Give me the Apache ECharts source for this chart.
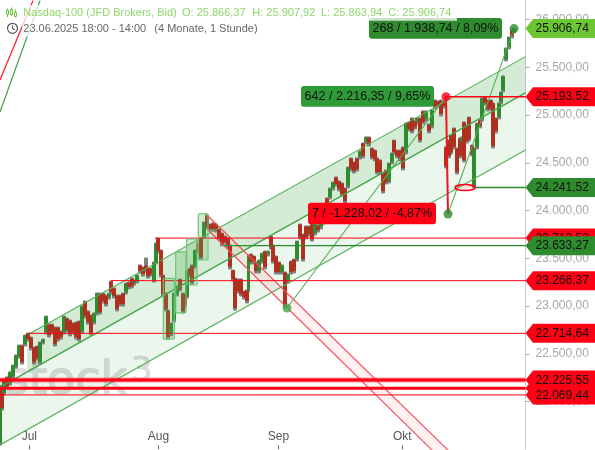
<!DOCTYPE html>
<html>
<head>
<meta charset="utf-8">
<style>html,body{margin:0;padding:0;background:#fff}#c{width:595px;height:450px}</style>
<script src="https://cdn.jsdelivr.net/npm/echarts@6/dist/echarts.min.js"></script>
</head>
<body>
<div id="c"></div>
<script>
const barIndex = [
0,2,4,7,10,13,16,19,22,25,
28,31,34,37,40,43,46,49,52,55,
58,61,64,67,70,73,76,79,82,85,
88,91,94,97,100,103,106,109,111,114,
117,120,123,126,129,132,134,137,140,143,
146,148,151,154,156,158,161,163,166,168,
171,174,177,180,183,185,187,190,192,195,
198,201,204,207,210,213,216,219,222,225,
228,230,233,235,238,241,244,247,248.5,251,
254,256,259,262,265,268,271,273,276,279,
282,285,288,291,294,297,300,303,306,309,
312,315,318,321,324,327,330,333,336,339,
342,345,348,351,354,357,360,363,366,369,
372,375,377,380,383,386,389,392,394,397,
400,403,406,409,412,415,417,420,423,426,
429,432,435,438,441,444,446,449,451,454,
457,460,462,464,467,469,472,474,477,480,
482,485,488,491,493,496,499,501,503,506,
509,512,514];
const highs = [
22069,22173,22226,22257,22310,22383,22488,22592,22592,22697,
22718,22676,22571,22582,22624,22655,22896,22812,22812,22781,
22781,22739,22896,22875,22854,22823,22833,22844,23001,23053,
22949,22907,22928,23137,23137,23137,23116,23137,23263,23190,
23116,23116,23137,23242,23252,23294,23273,23326,23431,23410,
23504,23399,23399,23462,23661,23713,23588,23326,23137,22959,
22823,23137,23211,23284,23137,23116,23378,23399,23431,23588,
23661,23713,23881,23954,23860,23871,23860,23808,23766,23734,
23713,23640,23378,23294,23284,23284,23158,23169,23535,23546,
23525,23462,23483,23556,23577,23577,23734,23640,23525,23462,
23431,23357,23336,23472,23493,23682,23860,23755,23839,23839,
23860,23860,23850,23881,24059,24133,24237,24300,24353,24311,
24290,24237,24457,24552,24510,24552,24625,24709,24772,24772,
24656,24635,24552,24531,24394,24426,24499,24604,24740,24635,
24635,24667,24918,24929,24971,24939,24971,24971,25044,25044,
24908,25054,25159,25149,25159,25149,24667,24740,24793,24866,
24656,24761,24772,24929,24897,24981,24688,24656,24918,24950,
25180,25191,25159,25159,25128,24971,25128,25243,25411,25704,
25819,25893,25907.92];
const lows = [
21545,21911,22069,22142,22173,22247,22351,22456,22393,22582,
22634,22540,22393,22435,22393,22603,22708,22676,22708,22582,
22634,22655,22708,22729,22687,22708,22655,22634,22718,22875,
22812,22697,22812,22907,22917,23033,23001,23074,23127,23085,
22949,23001,23001,23127,23179,23190,23221,23242,23347,23315,
23357,23294,23315,23252,23441,23556,23305,23106,22949,22655,
22687,22833,23106,23158,22928,22991,23085,23305,23231,23399,
23556,23493,23713,23808,23787,23787,23776,23692,23630,23651,
23609,23389,23263,22959,23137,23106,23074,23033,23148,23441,
23441,23347,23347,23451,23389,23525,23598,23451,23336,23336,
23336,22980,23242,23336,23347,23472,23703,23472,23703,23734,
23682,23745,23776,23808,23860,24007,24122,24216,24258,24206,
24153,24080,24237,24415,24394,24415,24541,24552,24698,24677,
24541,24520,24384,24384,24185,24279,24290,24489,24593,24552,
24520,24426,24593,24835,24814,24855,24908,24719,24908,24939,
24814,24866,25065,25086,24992,25075,24447,24552,24593,24646,
24384,24552,24698,24510,24709,24730,24573,24242,24646,24866,
24939,25107,25044,25054,24656,24814,24960,25117,25243,25568,
25694,25809,25863.94];
const opens = [
21570,22163,22094,22247,22198,22272,22376,22481,22582,22607,
22708,22666,22561,22572,22418,22628,22733,22802,22802,22771,
22771,22729,22733,22865,22844,22813,22823,22834,22743,23043,
22939,22897,22837,22932,23127,23127,23106,23099,23253,23180,
23106,23106,23127,23152,23242,23284,23246,23267,23421,23400,
23420,23389,23389,23277,23466,23703,23578,23316,23127,22949,
22712,22858,23131,23274,23127,23106,23110,23389,23421,23424,
23651,23703,23738,23944,23850,23861,23850,23798,23756,23724,
23703,23630,23368,23284,23274,23274,23148,23159,23173,23536,
23515,23452,23372,23476,23567,23550,23724,23630,23515,23452,
23361,23347,23267,23462,23483,23497,23850,23745,23829,23829,
23850,23770,23840,23833,23885,24123,24147,24241,24343,24301,
24280,24227,24262,24542,24500,24542,24566,24699,24723,24762,
24646,24625,24542,24521,24384,24416,24315,24514,24730,24625,
24625,24657,24618,24919,24961,24929,24933,24961,25034,24964,
24898,24891,25149,25139,25149,25139,24657,24730,24783,24856,
24646,24751,24723,24919,24887,24971,24678,24267,24671,24940,
24964,25181,25149,25149,25118,24961,24985,25142,25268,25593,
25719,25883,25866.37];
const closes = [
22059,21936,22216,22167,22300,22373,22478,22582,22418,22687,
22659,22565,22418,22460,22614,22645,22886,22701,22733,22607,
22659,22680,22886,22754,22712,22733,22680,22659,22991,22900,
22837,22722,22918,23127,22942,23058,23026,23127,23152,23110,
22974,23026,23026,23232,23204,23215,23263,23316,23372,23340,
23382,23319,23340,23452,23651,23581,23330,23131,22974,22680,
22813,23127,23201,23183,22953,23016,23368,23330,23256,23578,
23581,23518,23871,23833,23812,23812,23801,23717,23655,23676,
23634,23414,23288,22984,23162,23131,23099,23058,23525,23466,
23466,23372,23473,23546,23414,23567,23623,23476,23361,23361,
23421,23005,23326,23361,23372,23672,23728,23497,23728,23759,
23707,23850,23801,23871,24049,24032,24227,24290,24283,24231,
24178,24105,24447,24440,24419,24440,24615,24577,24762,24702,
24566,24545,24409,24409,24210,24304,24489,24594,24618,24577,
24545,24451,24908,24860,24839,24880,24961,24744,24933,25034,
24839,25044,25090,25111,25017,25100,24472,24577,24618,24671,
24409,24577,24762,24535,24734,24755,24598,24646,24908,24891,
25170,25132,25069,25079,24681,24839,25118,25233,25401,25694,
25809,25834,25906.74];

const monthBars = [29.3,158.5,278.5,402.3];
const monthNames = ['Jul','Aug','Sep','Okt'];
const priceTicks = [22000,22500,23000,23500,24000,24500,25000,25500,26000];

const levelValues = [23712.52,23633.27,23266.37,22714.64,22225.55,22139,22069.44,25193.52,24241.52];
const levelStarts = [155,224,111,29,0,0,0,446,475];
const tagValues = [25906.74,25193.52,24241.52,23712.52,23633.27,23266.37,22714.64,22139,22225.55,22069.44];

const channelDark = [[27,22697],[525.5,25613],[525.5,25233],[27,22310]];
const channelLight = [[0,22152],[525.5,25233],[525.5,24635],[0,21545]];
const channelRed = [[207,23954],[448,21492],[432,21492],[207,23808]];
const upperEdge = [[29,22708],[525.5,25613]];
const middleEdge = [[0,22152],[525.5,25233]];
const lowerEdge = [[0,21545],[525.5,24635]];
const redEdgeA = [[207,23954],[448,21492]];
const redEdgeB = [[207,23808],[432,21492]];
const riseA = [[287,22980],[446,25193.52]];
const riseB = [[448,23965],[514,25906.74]];
const dropLine = [[446,25193.52],[448,23965]];
const oldRed = [[0,25369],[33,26200]];
const oldGreen = [[0,25033],[40,26200]];
const boxes = [[198.3,208,23965,23483],[186.7,197,23703,23221],[175.7,186,23567,22928],[163.3,174.3,23291,22655]];
const dots = [[446,25193.52],[448,23965],[514,25906.74],[287,22980]];
const swingLabels = ['268 / 1.938,74 / 8,09%','642 / 2.216,35 / 9,65%','7 / -1.228,02 / -4,87%'];
const swingCentres = [[435.5,25909],[367.5,25197],[372,23971]];
const lowMark = [465,24241.52];

const FONT = '"Liberation Sans", Arial, sans-serif';
const RED='#ff0014', GREEN='#2e8b2e', LIME='#6cc533', CH='#52b257';
const fmt = v => { const s=v.toFixed(2).split('.'); return s[0].replace(/\B(?=(\d{3})+$)/g,'.')+','+s[1]; };
const XMAX = 525.5;

function polygonSeries(points, fill, z){
  return {type:'custom', data:[0], silent:true, z, animation:false,
    renderItem:(p,api)=>({type:'polygon', shape:{points:points.map(q=>api.coord(q))}, style:{fill}})};
}
function lineSeries(points, color, width, z){
  return {type:'line', data:points, symbol:'none', silent:true, animation:false, z, lineStyle:{color, width}};
}
const series = [];
series.push(polygonSeries(channelLight,'rgba(76,175,80,0.11)',1));
series.push(polygonSeries(channelDark,'rgba(76,175,80,0.24)',1));
series.push(polygonSeries(channelRed,'rgba(255,60,60,0.07)',1));

series.push({type:'candlestick', z:2, silent:true, animation:false, progressive:0, barWidth:2.6,
  itemStyle:{color:'#808080',color0:'#808080',borderColor:'#808080',borderColor0:'#808080',borderWidth:1},
  data:barIndex.map((x,i)=>[x,lows[i],highs[i],lows[i],highs[i]])});
series.push({type:'candlestick', z:3, silent:true, animation:false, progressive:0, barWidth:2.6,
  itemStyle:{color:GREEN,color0:'#b03020',borderColor:GREEN,borderColor0:'#b03020',borderWidth:1},
  data:barIndex.map((x,i)=>[x,opens[i],closes[i],Math.min(opens[i],closes[i]),Math.max(opens[i],closes[i])])});

[upperEdge,lowerEdge,riseA,riseB].forEach(p=>series.push(lineSeries(p,CH,1.1,4)));
series.push(lineSeries(middleEdge,'#45a64c',1.4,4));
[redEdgeA,redEdgeB].forEach(p=>series.push(lineSeries(p,'#f4505a',1.2,4)));
series.push(lineSeries(oldRed,'#ff2030',1.2,4));
series.push(lineSeries(oldGreen,'#3f9a46',1.2,4));
series.push(lineSeries(dropLine,'#f01420',2,5));

levelValues.forEach((v,i)=>{
  const pts=[[levelStarts[i],v],[XMAX,v]];
  const green = v===23633.27||v===24241.52;
  const thick = v===22225.55||v===22139;
  if(v===22225.55) series.push(lineSeries(pts,'rgba(255,0,20,0.4)',5,4));
  series.push(lineSeries(pts,green?GREEN:RED,thick?3:(green||v===25193.52?1.4:1),5));
});

series.push({type:'custom', data:boxes, silent:true, z:6, animation:false,
  renderItem:(p,api)=>{
    const b=boxes[p.dataIndex], a=api.coord([b[0],b[2]]), c=api.coord([b[1],b[3]]);
    return {type:'rect', shape:{x:a[0],y:a[1],width:c[0]-a[0],height:c[1]-a[1],r:1},
      style:{fill:'rgba(76,175,80,0.25)',stroke:'#6cc473',lineWidth:1.2}};
  }});
series.push({type:'custom', data:[0], silent:true, z:6, animation:false,
  renderItem:(p,api)=>{ const c=api.coord(lowMark);
    return {type:'ellipse', shape:{cx:c[0],cy:c[1],rx:10,ry:3}, style:{fill:'rgba(255,60,60,0.15)',stroke:RED,lineWidth:1.5}}; }});
series.push({type:'scatter', silent:true, z:7, animation:false, symbolSize:9,
  data:dots.map((d,i)=>({value:d, itemStyle:{color:[RED,GREEN,GREEN,'#45a84c'][i]}}))});

series.push({type:'custom', data:swingLabels, silent:true, z:8, animation:false,
  renderItem:(p,api)=>{
    const i=p.dataIndex, c=api.coord(swingCentres[i]), w=i===2?128:133, h=i===2?21.5:20.7;
    return {type:'group', children:[
      {type:'rect', shape:{x:c[0]-w/2,y:c[1]-h/2,width:w,height:h,r:3}, style:{fill:['#2e8b2e','#2f9a38',RED][i]}},
      {type:'text', style:{text:swingLabels[i],x:c[0],y:c[1]+.5,align:'center',verticalAlign:'middle',fill:'#111',font:'12.5px '+FONT}}
    ]};
  }});

series.push({type:'custom', data:tagValues, silent:true, z:9, animation:false,
  renderItem:(p,api)=>{
    const v=tagValues[p.dataIndex], c=api.coord([XMAX,v]), y=c[1], x=c[0];
    const green=v===24241.52||v===23633.27, lime=v===25906.74;
    return {type:'group', children:[
      {type:'polygon', shape:{points:[[x,y],[x+7.5,y-9.5],[595,y-9.5],[595,y+9.5],[x+7.5,y+9.5]]},
       style:{fill:lime?LIME:(green?GREEN:RED)}},
      {type:'text', style:{text:fmt(v),x:535.5,y:y+.5,align:'left',verticalAlign:'middle',fill:'#111',font:'12px '+FONT}}
    ]};
  }});

const chart = echarts.init(document.getElementById('c'),null,{renderer:'canvas'});
const hdr = (text,x,y,fill)=>({type:'text',z:101,silent:true,style:{text,x,y,fill,fontSize:11,fontFamily:FONT,verticalAlign:'middle'}});
chart.setOption({
  animation:false,
  backgroundColor:'#fff',
  grid:{left:0,top:0.6,width:XMAX,height:448.7,containLabel:false},
  xAxis:{type:'value',min:0,max:XMAX,position:'bottom',splitLine:{show:false},axisLine:{show:false,onZero:false},
    axisTick:{show:true,inside:true,length:4,customValues:monthBars,lineStyle:{color:'#666'}},
    axisLabel:{inside:true,margin:7,customValues:monthBars,color:'#555',fontFamily:FONT,fontSize:12,
      formatter:v=>{const i=monthBars.indexOf(v);return i<0?'':monthNames[i];}}},
  yAxis:{type:'value',position:'right',min:21500,max:26200,interval:500,splitLine:{show:false},
    axisLine:{show:true,onZero:false,lineStyle:{color:'#ccc'}},
    axisTick:{show:true,length:4,customValues:priceTicks,lineStyle:{color:'#aaa'}},
    axisLabel:{margin:10,customValues:priceTicks,color:'#a8a8a8',fontFamily:FONT,fontSize:12,formatter:v=>fmt(v)}},
  graphic:[
    {type:'text',z:0,silent:true,style:{text:'stock',x:5,y:382,fill:'#dcdcdc',stroke:'#dcdcdc',lineWidth:1.5,fontSize:46,fontFamily:'"DejaVu Sans"',verticalAlign:'middle'}},
    {type:'text',z:0,silent:true,style:{text:'3',x:131,y:372,fill:'#dcdcdc',stroke:'#dcdcdc',lineWidth:1,fontSize:34,fontFamily:'"DejaVu Sans"',verticalAlign:'middle'}},
    {type:'rect',z:100,silent:true,shape:{x:22,y:5,width:435,height:15.7},style:{fill:'rgba(255,255,255,0.75)'}},
    {type:'rect',z:100,silent:true,shape:{x:22,y:20.7,width:236,height:16},style:{fill:'rgba(255,255,255,0.75)'}},
    hdr('Nasdaq-100 (JFD Brokers, Bid)',23.3,12.7,'#8ed66c'),
    hdr('O: 25.866,37',182,12.7,'#8ed66c'),
    hdr('H: 25.907,92',252.3,12.7,'#8ed66c'),
    hdr('L: 25.863,94',321,12.7,'#8ed66c'),
    hdr('C: 25.906,74',388.3,12.7,'#8ed66c'),
    hdr('23.06.2025 18:00 - 14:00',23.3,28.8,'#666'),
    hdr('(4 Monate, 1 Stunde)',154.3,28.8,'#666'),
    {type:'line',z:101,silent:true,shape:{x1:7.5,y1:8.5,x2:7.5,y2:17},style:{stroke:LIME,lineWidth:1}},
    {type:'rect',z:101,silent:true,shape:{x:6.5,y:10.5,width:2,height:4},style:{stroke:LIME,fill:'#fff',lineWidth:1}},
    {type:'line',z:101,silent:true,shape:{x1:11.5,y1:7.5,x2:11.5,y2:16},style:{stroke:LIME,lineWidth:1}},
    {type:'rect',z:101,silent:true,shape:{x:10.5,y:9.5,width:2,height:5},style:{stroke:LIME,fill:'#fff',lineWidth:1}},
    {type:'line',z:101,silent:true,shape:{x1:15.5,y1:9.5,x2:15.5,y2:17.5},style:{stroke:LIME,lineWidth:1}},
    {type:'rect',z:101,silent:true,shape:{x:14.5,y:12.5,width:2,height:4},style:{stroke:LIME,fill:'#fff',lineWidth:1}},
    {type:'circle',z:101,silent:true,shape:{cx:12.5,cy:28.3,r:5},style:{stroke:'#555',fill:'#fff',lineWidth:1.2}},
    {type:'polyline',z:101,silent:true,shape:{points:[[12.5,25.3],[12.5,28.5],[15,30]]},style:{stroke:'#555',fill:'none',lineWidth:1.1}}
  ],
  series
});
</script>
</body>
</html>
